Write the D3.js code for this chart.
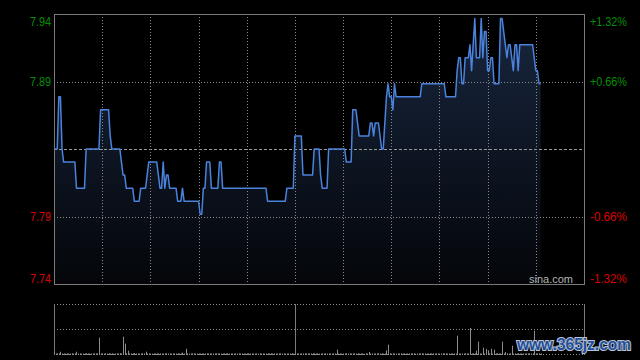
<!DOCTYPE html>
<html>
<head>
<meta charset="utf-8">
<script src="https://cdn.jsdelivr.net/npm/d3@7/dist/d3.min.js"></script>
<style>
html,body{margin:0;padding:0;background:#000;}
svg{display:block;}
</style>
</head>
<body>
<svg id="chart" width="640" height="360"></svg>
<script>
// ---- data ----
const prevClose = 7.84;
const pctTicks = [1.32, 0.66, 0, -0.66, -1.32];
const leftLabels = ["7.94", "7.89", "", "7.79", "7.74"];
const rightLabels = ["+1.32%", "+0.66%", "", "-0.66%", "-1.32%"];
const totalMinutes = 330;
const gridMinutes = [30, 60, 90, 120, 150, 180, 210, 240, 270, 300];
const lunchMinute = 150;
const prices = [
7.84,7.84,7.84,7.88,7.88,7.84,7.83,7.83,7.83,7.83,
7.83,7.83,7.83,7.83,7.81,7.81,7.81,7.81,7.81,7.81,
7.84,7.84,7.84,7.84,7.84,7.84,7.84,7.84,7.84,7.87,
7.87,7.87,7.87,7.87,7.87,7.85,7.84,7.84,7.84,7.84,
7.84,7.84,7.83,7.82,7.82,7.81,7.81,7.81,7.81,7.81,
7.80,7.80,7.80,7.80,7.81,7.81,7.81,7.81,7.82,7.83,
7.83,7.83,7.83,7.83,7.83,7.82,7.81,7.81,7.83,7.81,
7.82,7.82,7.81,7.81,7.81,7.81,7.81,7.80,7.80,7.80,
7.81,7.80,7.80,7.80,7.80,7.80,7.80,7.80,7.80,7.80,
7.80,7.79,7.79,7.81,7.81,7.83,7.83,7.83,7.81,7.81,
7.81,7.81,7.81,7.83,7.83,7.81,7.81,7.81,7.81,7.81,
7.81,7.81,7.81,7.81,7.81,7.81,7.81,7.81,7.81,7.81,
7.81,7.81,7.81,7.81,7.81,7.81,7.81,7.81,7.81,7.81,
7.81,7.81,7.81,7.80,7.80,7.80,7.80,7.80,7.80,7.80,
7.80,7.80,7.80,7.80,7.80,7.81,7.81,7.81,7.81,7.81,
7.85,7.85,7.85,7.85,7.85,7.82,7.82,7.82,7.82,7.82,
7.82,7.82,7.84,7.84,7.84,7.84,7.82,7.81,7.81,7.81,
7.81,7.84,7.84,7.84,7.84,7.84,7.84,7.84,7.84,7.84,
7.84,7.84,7.83,7.83,7.83,7.83,7.87,7.87,7.87,7.86,
7.85,7.85,7.85,7.85,7.85,7.85,7.85,7.86,7.86,7.85,
7.86,7.86,7.86,7.85,7.84,7.84,7.86,7.88,7.89,7.88,
7.88,7.87,7.89,7.88,7.88,7.88,7.88,7.88,7.88,7.88,
7.88,7.88,7.88,7.88,7.88,7.88,7.88,7.88,7.88,7.89,
7.89,7.89,7.89,7.89,7.89,7.89,7.89,7.89,7.89,7.89,
7.89,7.89,7.89,7.89,7.88,7.88,7.88,7.88,7.88,7.88,
7.88,7.90,7.91,7.91,7.89,7.89,7.91,7.91,7.91,7.92,
7.90,7.92,7.94,7.91,7.91,7.91,7.94,7.91,7.93,7.93,
7.90,7.90,7.91,7.91,7.89,7.89,7.89,7.89,7.94,7.94,
7.93,7.92,7.91,7.92,7.92,7.91,7.90,7.92,7.92,7.90,
7.92,7.92,7.92,7.92,7.92,7.92,7.92,7.92,7.92,7.91,
7.90,7.90,7.89,7.89
];
const volumes = [
8,6,5,7,23,6,5,4,6,5,
5,7,4,6,23,5,6,4,5,6,
7,5,6,5,4,6,5,7,163,6,
5,4,6,5,7,5,6,4,5,6,
5,7,6,173,103,6,33,5,7,6,
10,5,6,4,5,7,6,23,5,6,
5,4,6,5,7,5,6,4,5,6,
7,5,6,4,5,6,5,7,4,6,
15,5,53,6,4,5,7,6,5,4,
6,5,4,6,5,7,5,6,4,5,
6,7,5,6,4,5,6,5,7,4,
6,5,4,6,5,7,5,6,4,5,
6,7,5,6,4,5,6,5,7,4,
6,5,4,6,5,7,5,6,4,5,
6,7,5,6,4,5,6,5,7,4,
12,6,5,4,6,5,7,5,6,4,
5,6,7,5,6,4,5,6,5,7,
4,6,5,4,6,5,43,5,6,4,
5,6,7,5,6,4,5,6,5,7,
4,6,5,4,6,5,20,5,6,4,
5,6,7,5,6,4,5,37,93,7,
4,6,5,4,6,5,7,5,6,4,
5,6,7,5,6,4,5,6,5,7,
4,6,5,4,6,5,7,5,6,4,
5,6,7,5,6,4,5,6,5,7,
4,183,5,4,6,5,7,5,6,260,
5,6,7,33,123,4,5,63,5,50,
37,6,53,5,43,6,7,5,6,123,
5,20,7,5,6,83,5,6,5,7,
4,6,5,4,6,5,7,5,6,233,
5,6,7,5
];

// ---- layout ----
const M = {left: 54, right: 584, top: 14, bottom: 284};
const V = {top: 304, bottom: 354};
const svg = d3.select("#chart");
svg.append("rect").attr("width", 640).attr("height", 360).attr("fill", "#000");

const x = d3.scaleLinear().domain([0, totalMinutes]).range([M.left, M.right]);
const y = d3.scaleLinear()
  .domain([prevClose * (1 - 0.0132), prevClose * (1 + 0.0132)])
  .range([M.bottom, M.top]);
const yv = d3.scaleLinear().domain([0, 500]).range([V.bottom, V.top]);

const tickVals = pctTicks.map(p => prevClose * (1 + p / 100));

// gradient
const defs = svg.append("defs");
const grad = defs.append("linearGradient").attr("id", "fillGrad")
  .attr("gradientUnits", "userSpaceOnUse")
  .attr("x1", 0).attr("x2", 0).attr("y1", M.top).attr("y2", M.bottom);
grad.append("stop").attr("offset", "0%").attr("stop-color", "#18263f");
grad.append("stop").attr("offset", "100%").attr("stop-color", "#040609");

// area + line
const area = d3.area().x((d, i) => x(i)).y0(M.bottom).y1(d => y(d));
const line = d3.line().x((d, i) => x(i)).y(d => y(d));
svg.append("path").datum(prices).attr("d", area).attr("fill", "url(#fillGrad)");

// grid (main)
const gGrid = svg.append("g");
tickVals.forEach((v, k) => {
  if (k === 0 || k === tickVals.length - 1) return;
  gGrid.append("line")
    .attr("x1", M.left).attr("x2", M.right)
    .attr("y1", Math.round(y(v)) + 0.5).attr("y2", Math.round(y(v)) + 0.5)
    .attr("stroke", pctTicks[k] === 0 ? "#9a9a9a" : "#8a8a8a")
    .attr("stroke-width", 1)
    .attr("stroke-dasharray", pctTicks[k] === 0 ? "3,2" : "1,2");
});
gridMinutes.forEach(m => {
  gGrid.append("line")
    .attr("x1", Math.round(x(m)) + 0.5).attr("x2", Math.round(x(m)) + 0.5)
    .attr("y1", M.top).attr("y2", M.bottom)
    .attr("stroke", "#8a8a8a").attr("stroke-width", 1)
    .attr("stroke-dasharray", "1,2");
});

svg.append("path").datum(prices).attr("d", line)
  .attr("fill", "none").attr("stroke", "#4a82dc").attr("stroke-width", 1.5)
  .attr("stroke-linejoin", "round");

// frame
svg.append("rect")
  .attr("x", M.left + 0.5).attr("y", M.top + 0.5)
  .attr("width", M.right - M.left).attr("height", M.bottom - M.top)
  .attr("fill", "none").attr("stroke", "#7a7a7a").attr("stroke-width", 1);

// axes labels
const leftAxis = d3.axisLeft(y).tickValues(tickVals).tickSize(0).tickPadding(3)
  .tickFormat((d, i) => leftLabels[i]);
const gL = svg.append("g").attr("transform", `translate(${M.left},0)`).call(leftAxis);
const rightAxis = d3.axisRight(y).tickValues(tickVals).tickSize(0).tickPadding(6)
  .tickFormat((d, i) => rightLabels[i]);
const gR = svg.append("g").attr("transform", `translate(${M.right},0)`).call(rightAxis);
[gL, gR].forEach(g => {
  g.select(".domain").remove();
  g.selectAll("text")
    .attr("font-family", "Liberation Sans, Arial, sans-serif")
    .attr("font-size", 12)
    .attr("fill", (d, i) => pctTicks[i] > 0 ? "#068f06" : "#dd0000")
    .attr("dy", (d, i) => i === 0 ? "0.95em" : (i === pctTicks.length - 1 ? "-0.15em" : "0.35em"));
});
gL.selectAll("text").attr("textLength", 21).attr("lengthAdjust", "spacingAndGlyphs");
gR.selectAll("text").attr("textLength", 37).attr("lengthAdjust", "spacingAndGlyphs");

svg.append("text").attr("x", 573).attr("y", 283)
  .attr("text-anchor", "end")
  .attr("font-family", "Liberation Sans, Arial, sans-serif")
  .attr("font-size", 11).attr("fill", "#b4b4b4").text("sina.com");

// ---- volume panel ----
const gV = svg.append("g");
[V.top, (V.top + V.bottom) / 2, V.bottom].forEach(yy => {
  gV.append("line")
    .attr("x1", M.left).attr("x2", M.right)
    .attr("y1", Math.round(yy) + 0.5).attr("y2", Math.round(yy) + 0.5)
    .attr("stroke", "#8a8a8a").attr("stroke-dasharray", "1,2");
});
[M.left, x(lunchMinute), M.right].forEach(xx => {
  gV.append("line")
    .attr("x1", Math.round(xx) + 0.5).attr("x2", Math.round(xx) + 0.5)
    .attr("y1", V.top).attr("y2", V.bottom + 1)
    .attr("stroke", "#7a7a7a");
});
gV.selectAll("line.bar").data(volumes).enter().append("line")
  .attr("class", "bar")
  .attr("x1", (d, i) => Math.round(x(i)) + 0.5)
  .attr("x2", (d, i) => Math.round(x(i)) + 0.5)
  .attr("y1", V.bottom + 1).attr("y2", d => yv(d))
  .attr("stroke", "#8c8c8c").attr("stroke-width", 1);

// watermark
svg.append("text").attr("x", 574).attr("y", 350)
  .attr("text-anchor", "middle")
  .attr("font-family", "Liberation Sans, Arial, sans-serif").attr("font-weight", "bold")
  .attr("font-size", 16)
  .attr("textLength", 114).attr("lengthAdjust", "spacingAndGlyphs")
  .attr("fill", "#1f4f9c").attr("stroke", "#b9c3d2").attr("stroke-width", 2)
  .attr("paint-order", "stroke")
  .text("www.365jz.com");
</script>
</body>
</html>
